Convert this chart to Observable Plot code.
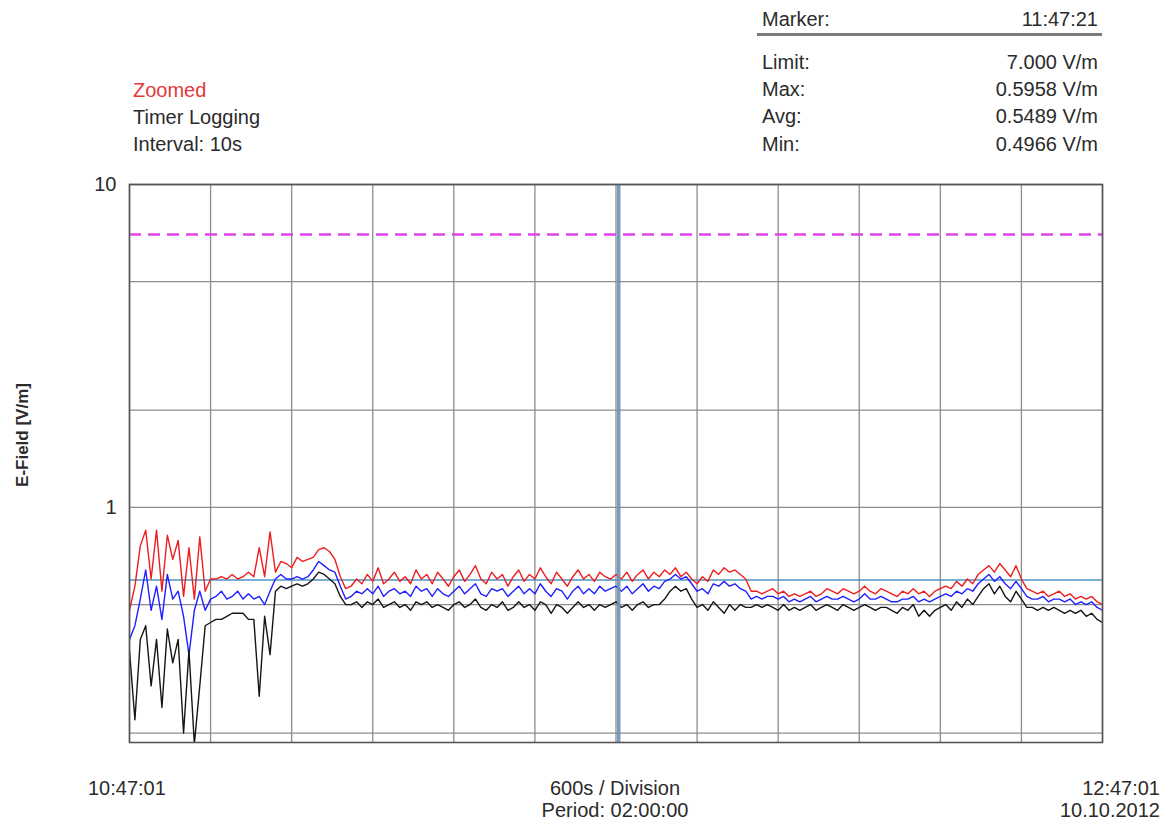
<!DOCTYPE html>
<html>
<head>
<meta charset="utf-8">
<script src="https://cdn.jsdelivr.net/npm/d3@7"></script>
<script src="https://cdn.jsdelivr.net/npm/@observablehq/plot@0.6"></script>
<style>
  body { margin: 0; background: #fff; }
  #wrap { position: relative; width: 1166px; height: 825px; font-family: "Liberation Sans", Arial, sans-serif; color: #2b2b2b; }
  .t { position: absolute; font-size: 20px; line-height: 1; white-space: nowrap; }
  .r { text-align: right; }
  #chart { position: absolute; left: 0; top: 0; }
</style>
</head>
<body>
<div id="wrap">
  <div id="chart"></div>
</div>
<script>
// ---- header / footer texts ----
const modeLabel = "Zoomed";
const infoLines = ["Timer Logging", "Interval: 10s"];
const tableLabels = ["Limit:", "Max:", "Avg:", "Min:"];
const tableValues = ["7.000 V/m", "0.5958 V/m", "0.5489 V/m", "0.4966 V/m"];
const markerLabel = "Marker:";
const markerTime = "11:47:21";
const startTime = "10:47:01";
const endTime = "12:47:01";
const endDate = "10.10.2012";
const divisionText = "600s / Division";
const periodText = "Period: 02:00:00";
const yLabel = "E-Field [V/m]";

// ---- scales / reference values ----
const stepSeconds = 40;             // resampled logging step
const periodSeconds = 7200;
const gridX = [0, 600, 1200, 1800, 2400, 3000, 3600, 4200, 4800, 5400, 6000, 6600, 7200];
const gridY = [0.2, 0.5, 1, 2, 5, 10];
const yTicks = [1, 10];
const limitValue = 7.0;
const markerSeconds = 3620;
const markerMax = 0.5958;

// ---- series (V/m) ----
const maxVals = [
0.48,0.57,0.76,0.85,0.60,0.85,0.55,0.82,0.69,0.79,
0.53,0.75,0.52,0.81,0.55,0.60,0.60,0.61,0.60,0.62,
0.60,0.61,0.63,0.61,0.75,0.61,0.84,0.63,0.68,0.67,
0.65,0.70,0.68,0.69,0.70,0.74,0.75,0.73,0.69,0.61,
0.56,0.57,0.60,0.58,0.62,0.59,0.65,0.58,0.60,0.63,
0.59,0.61,0.58,0.64,0.60,0.62,0.58,0.63,0.60,0.57,
0.61,0.64,0.59,0.62,0.66,0.60,0.58,0.63,0.60,0.62,
0.57,0.61,0.64,0.59,0.62,0.60,0.65,0.61,0.58,0.63,
0.60,0.57,0.61,0.64,0.60,0.62,0.59,0.63,0.61,0.60,
0.62,0.60,0.63,0.59,0.62,0.64,0.60,0.63,0.61,0.64,
0.62,0.65,0.61,0.63,0.60,0.58,0.61,0.59,0.64,0.62,
0.65,0.63,0.64,0.62,0.60,0.55,0.55,0.54,0.55,0.56,
0.54,0.55,0.53,0.54,0.53,0.54,0.55,0.53,0.54,0.56,
0.55,0.54,0.56,0.55,0.54,0.55,0.57,0.55,0.54,0.56,
0.55,0.54,0.53,0.55,0.54,0.56,0.54,0.55,0.53,0.55,
0.56,0.57,0.56,0.59,0.57,0.60,0.58,0.62,0.64,0.66,
0.63,0.67,0.64,0.61,0.66,0.60,0.56,0.55,0.54,0.55,
0.53,0.54,0.55,0.53,0.54,0.52,0.53,0.52,0.53,0.51,0.50
];
const avgVals = [
0.39,0.43,0.52,0.64,0.48,0.57,0.45,0.62,0.52,0.55,
0.46,0.35,0.48,0.55,0.48,0.52,0.53,0.55,0.52,0.53,
0.55,0.52,0.54,0.52,0.53,0.50,0.55,0.60,0.62,0.60,
0.60,0.61,0.60,0.61,0.64,0.68,0.66,0.64,0.63,0.57,
0.52,0.53,0.55,0.54,0.56,0.54,0.57,0.53,0.55,0.56,
0.54,0.55,0.53,0.57,0.55,0.56,0.53,0.56,0.54,0.53,
0.55,0.57,0.54,0.56,0.58,0.54,0.53,0.56,0.55,0.56,
0.53,0.55,0.57,0.54,0.56,0.54,0.58,0.55,0.53,0.56,
0.55,0.52,0.55,0.57,0.54,0.56,0.54,0.57,0.55,0.56,
0.57,0.55,0.57,0.54,0.56,0.58,0.55,0.57,0.56,0.59,
0.60,0.62,0.60,0.61,0.58,0.55,0.56,0.54,0.58,0.57,
0.59,0.57,0.58,0.56,0.55,0.52,0.53,0.52,0.53,0.53,
0.52,0.53,0.51,0.52,0.51,0.52,0.53,0.51,0.52,0.53,
0.52,0.52,0.53,0.52,0.51,0.52,0.54,0.52,0.52,0.53,
0.52,0.51,0.51,0.52,0.52,0.53,0.51,0.52,0.51,0.52,
0.53,0.54,0.53,0.55,0.54,0.56,0.55,0.58,0.60,0.62,
0.59,0.61,0.58,0.56,0.59,0.56,0.53,0.52,0.52,0.53,
0.51,0.52,0.52,0.51,0.52,0.50,0.51,0.50,0.51,0.49,0.48
];
const minVals = [
0.36,0.22,0.39,0.43,0.28,0.39,0.24,0.42,0.33,0.39,
0.20,0.36,0.185,0.28,0.43,0.44,0.45,0.45,0.46,0.47,
0.47,0.47,0.45,0.45,0.26,0.46,0.35,0.55,0.57,0.56,
0.57,0.58,0.57,0.58,0.60,0.63,0.62,0.60,0.58,0.53,
0.50,0.50,0.51,0.49,0.51,0.50,0.52,0.49,0.50,0.51,
0.49,0.50,0.48,0.51,0.50,0.51,0.49,0.50,0.49,0.48,
0.50,0.51,0.49,0.50,0.52,0.49,0.48,0.50,0.49,0.51,
0.48,0.49,0.51,0.49,0.50,0.48,0.51,0.50,0.47,0.50,
0.49,0.47,0.49,0.51,0.49,0.50,0.48,0.50,0.49,0.50,
0.51,0.49,0.50,0.48,0.50,0.51,0.49,0.50,0.50,0.52,
0.55,0.57,0.55,0.56,0.52,0.49,0.50,0.48,0.51,0.49,
0.47,0.50,0.48,0.50,0.49,0.49,0.50,0.49,0.50,0.49,
0.48,0.50,0.48,0.49,0.48,0.49,0.50,0.48,0.49,0.50,
0.49,0.48,0.50,0.49,0.48,0.49,0.50,0.49,0.48,0.49,
0.49,0.48,0.47,0.49,0.48,0.50,0.46,0.48,0.46,0.48,
0.49,0.50,0.48,0.51,0.49,0.52,0.50,0.53,0.56,0.58,
0.54,0.57,0.53,0.51,0.55,0.52,0.49,0.49,0.48,0.49,
0.48,0.49,0.48,0.47,0.48,0.47,0.48,0.46,0.47,0.45,0.44
];

const rows = maxVals.map((v, i) => ({ t: i * stepSeconds, max: v, avg: avgVals[i], min: minVals[i] }));

const chart = Plot.plot({
  width: 1166,
  height: 825,
  marginLeft: 129,
  marginRight: 64,
  marginTop: 184,
  marginBottom: 83,
  x: { domain: [0, periodSeconds], axis: null },
  y: { type: "log", domain: [0.187, 10], axis: null },
  style: { fontFamily: "Liberation Sans, Arial, sans-serif", fontSize: "20px", color: "#2b2b2b", background: "transparent" },
  marks: [
    Plot.ruleY(gridY, { stroke: "#8c8c8c", strokeWidth: 1.3 }),
    Plot.ruleX(gridX, { stroke: "#8c8c8c", strokeWidth: 1.3 }),
    Plot.ruleY([limitValue], { stroke: "#e243ea", strokeWidth: 2.6, strokeDasharray: "12,7" }),
    Plot.ruleY([markerMax], { stroke: "#4f94c2", strokeWidth: 1.4 }),
    Plot.line(rows, { x: "t", y: "max", stroke: "#ee1d1d", strokeWidth: 1.4, clip: true }),
    Plot.line(rows, { x: "t", y: "avg", stroke: "#1f1fff", strokeWidth: 1.4, clip: true }),
    Plot.line(rows, { x: "t", y: "min", stroke: "#151515", strokeWidth: 1.4, clip: true }),
    Plot.ruleX([markerSeconds], { stroke: "#6a90b6", strokeWidth: 3.5, strokeOpacity: 0.9 }),
    Plot.frame({ stroke: "#555", strokeWidth: 1.6 }),
    Plot.axisY(yTicks, { tickSize: 0, tickPadding: 13, tickFormat: d => String(d), fontSize: 20, label: null })
  ]
});
document.getElementById("chart").appendChild(chart);

// ---- overlay texts ----
const wrap = document.getElementById("wrap");
function addText(txt, css, cls = "t") {
  const d = document.createElement("div");
  d.className = cls;
  d.textContent = txt;
  Object.assign(d.style, css);
  wrap.appendChild(d);
  return d;
}
addText(modeLabel, { left: "133px", top: "80px", color: "#e23a3a" });
infoLines.forEach((s, i) => addText(s, { left: "133px", top: (107 + i * 27) + "px" }));
addText(markerLabel, { left: "762px", top: "9px" });
addText(markerTime, { right: "68px", top: "9px" }, "t r");
const rule = document.createElement("div");
Object.assign(rule.style, { position: "absolute", left: "757px", width: "345px", top: "33px", height: "3px", background: "#7a7a7a" });
wrap.appendChild(rule);
tableLabels.forEach((s, i) => {
  const top = [52, 79, 106, 134][i] + "px";
  addText(s, { left: "762px", top });
  addText(tableValues[i], { right: "68px", top }, "t r");
});
addText(startTime, { left: "88px", top: "778px" });
addText(divisionText, { left: "615px", top: "778px", transform: "translateX(-50%)" });
addText(periodText, { left: "615px", top: "800px", transform: "translateX(-50%)" });
addText(endTime, { right: "6px", top: "778px" }, "t r");
addText(endDate, { right: "6px", top: "800px" }, "t r");
addText(yLabel, { left: "22px", top: "435px", fontSize: "17px", fontWeight: "bold", transform: "translate(-50%,-50%) rotate(-90deg)" });
</script>
</body>
</html>
